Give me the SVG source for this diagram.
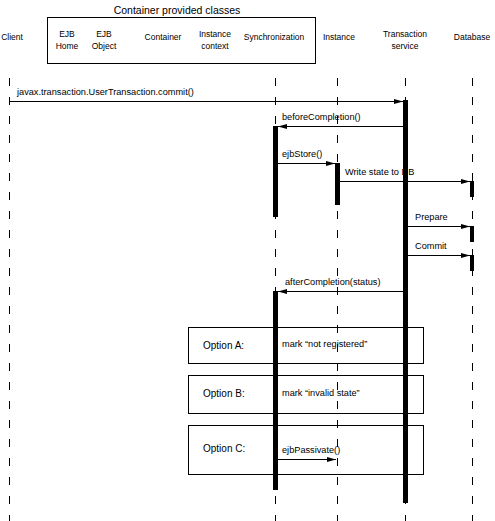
<svg xmlns="http://www.w3.org/2000/svg" width="495" height="521" viewBox="0 0 495 521">
<style>
text{font-family:"Liberation Sans",Arial,sans-serif;fill:#000}
.h{font-size:8.5px;text-anchor:middle}
.m{font-size:9.2px}
.o{font-size:10px}
.life{stroke:#000;stroke-width:1;stroke-dasharray:8 11;fill:none}
.act{fill:#000}
.msg{stroke:#000;stroke-width:1;fill:none;marker-end:url(#ah)}
.box{fill:none;stroke:#000;stroke-width:1}
</style>
<defs>
<marker id="ah" markerWidth="9" markerHeight="6" refX="9" refY="3" orient="auto" markerUnits="userSpaceOnUse">
<path d="M0,0.5 L9,3 L0,5.5 Z" fill="#000"/>
</marker>
</defs>
<rect width="495" height="521" fill="#fff"/>
<g id="header">
<text x="177" y="14" style="font-size:10.5px;text-anchor:middle">Container provided classes</text>
<rect class="box" x="47.5" y="17.5" width="268" height="46"/>
</g>
<g id="client"><text class="h" x="12" y="40">Client</text><line class="life" x1="9.5" y1="78" x2="9.5" y2="521"/></g>
<g id="ejbhome"><text class="h" x="67" y="37">EJB</text><text class="h" x="67" y="49">Home</text></g>
<g id="ejbobject"><text class="h" x="104" y="37">EJB</text><text class="h" x="104" y="49">Object</text></g>
<g id="container"><text class="h" x="163" y="40">Container</text></g>
<g id="instancecontext"><text class="h" x="215" y="37">Instance</text><text class="h" x="215" y="49">context</text></g>
<g id="sync"><text class="h" x="274" y="40">Synchronization</text><line class="life" x1="275.5" y1="78" x2="275.5" y2="521"/>
<rect class="act" x="273" y="126" width="5" height="91"/>
<rect class="act" x="273" y="291" width="5" height="199"/></g>
<g id="instance"><text class="h" x="339" y="40">Instance</text><line class="life" x1="337.5" y1="78" x2="337.5" y2="521"/>
<rect class="act" x="335" y="163" width="5" height="42"/></g>
<g id="txservice"><text class="h" x="405" y="37">Transaction</text><text class="h" x="405" y="49">service</text><line class="life" x1="405.5" y1="78" x2="405.5" y2="521"/>
<rect class="act" x="403" y="100" width="5" height="403"/></g>
<g id="database"><text class="h" x="472" y="40">Database</text><line class="life" x1="472.5" y1="78" x2="472.5" y2="521"/>
<rect class="act" x="470" y="181" width="4" height="16"/>
<rect class="act" x="470" y="226" width="4" height="16"/>
<rect class="act" x="470" y="255" width="4" height="16"/></g>
<g id="optA"><rect class="box" x="188.5" y="327.5" width="235" height="36"/><text class="o" x="203" y="349">Option A:</text><text class="m" x="282" y="347">mark “not registered”</text></g>
<g id="optB"><rect class="box" x="188.5" y="375.5" width="235" height="38"/><text class="o" x="203" y="397">Option B:</text><text class="m" x="282" y="396">mark “invalid state”</text></g>
<g id="optC"><rect class="box" x="188.5" y="425.5" width="235" height="49"/><text class="o" x="203" y="452">Option C:</text><text class="m" x="282" y="453">ejbPassivate()</text></g>
<g id="connectors">
<line class="msg" x1="9.5" y1="101.5" x2="403" y2="101.5"/><text class="m" x="17" y="95">javax.transaction.UserTransaction.commit()</text>
<line class="msg" x1="403" y1="126.5" x2="278" y2="126.5"/><text class="m" x="282" y="120">beforeCompletion()</text>
<line class="msg" x1="278" y1="163.5" x2="335" y2="163.5"/><text class="m" x="282" y="157">ejbStore()</text>
<line class="msg" x1="340" y1="181.5" x2="470" y2="181.5"/><text class="m" x="345" y="175">Write state to DB</text>
<line class="msg" x1="408" y1="226.5" x2="470" y2="226.5"/><text class="m" x="415" y="220">Prepare</text>
<line class="msg" x1="408" y1="255.5" x2="470" y2="255.5"/><text class="m" x="415" y="249">Commit</text>
<line class="msg" x1="403" y1="291.5" x2="278" y2="291.5"/><text class="m" x="285" y="285">afterCompletion(status)</text>
<line class="msg" x1="278" y1="459.5" x2="336" y2="459.5"/>
</g>
</svg>
